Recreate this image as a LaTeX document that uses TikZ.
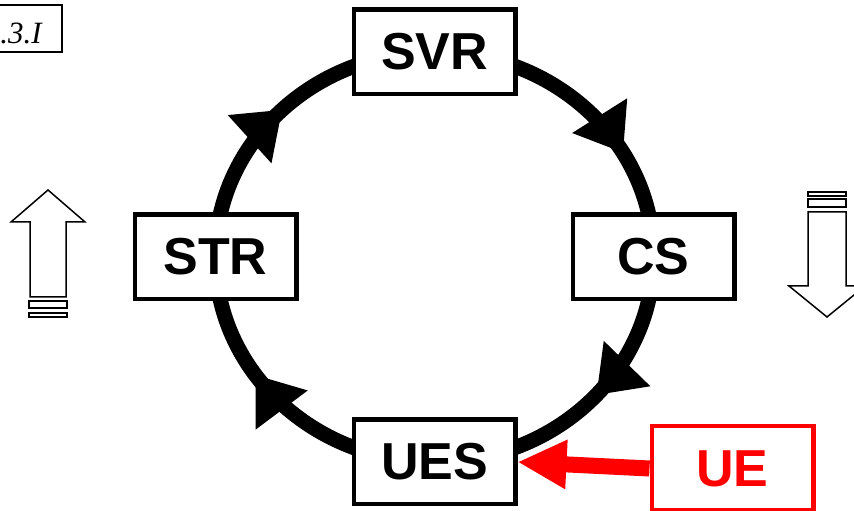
\documentclass[tikz,border=0pt]{standalone}
\usepackage{fontspec}
\setmainfont{Liberation Serif}
\newfontfamily\boxfont{Liberation Sans}
\usetikzlibrary{arrows.meta,decorations.markings,backgrounds}

\begin{document}
\begin{tikzpicture}[x=1pt,y=1pt,
  stage/.style={draw, line width=4.5pt, fill=white, inner sep=0pt,
    minimum width=161.5pt, minimum height=84.5pt,
    font=\boxfont\bfseries\fontsize{52}{52}\selectfont},
  ring/.style={line width=15pt},
  flowtip/.style={postaction={decorate},
    decoration={markings, mark=at position #1 with
      {\arrow{Triangle[length=44pt,width=62pt]}}}},
  hollow/.style={line width=1.5pt, line join=miter},
  tagfont/.style={font=\itshape\fontsize{31}{31}\selectfont}
]
\useasboundingbox (0,0) rectangle (854,511);
\clip (0,0) rectangle (854,511);

% the four stages of the cycle
\node[stage] (svr) at (434.5,459) {SVR};
\node[stage] (cs)  at (653.5,254) {CS};
\node[stage] (ues) at (434.5,49)  {UES};
\node[stage] (str) at (215.5,254) {STR};

% clockwise ring joining the stages
\begin{scope}[on background layer]
  \draw[ring, flowtip=0.67] (svr.center) arc[start angle=90,  end angle=0,   x radius=219, y radius=205];
  \draw[ring, flowtip=0.46] (cs.center)  arc[start angle=0,   end angle=-90, x radius=219, y radius=205];
  \draw[ring, flowtip=0.62] (ues.center) arc[start angle=270, end angle=180, x radius=219, y radius=205];
  \draw[ring, flowtip=0.50] (str.center) arc[start angle=180, end angle=90,  x radius=219, y radius=205];
\end{scope}

% external input
\node[stage, draw=red, text=red] (ue) at (732.5,42.5) {UE};
\draw[red, line width=16pt, -{Triangle[length=49pt,width=46pt]}] (ue.west) -- (ues.east);

% hollow arrow pointing up (left side)
\draw[hollow] (30,214) -- (30,289) -- (11,289) -- (48,321) -- (85,289) -- (66,289) -- (66,214) -- cycle;
\draw[hollow] (29,203) rectangle (67,210);
\draw[hollow] (29,194) rectangle (67,198);

% hollow arrow pointing down (right side)
\draw[hollow] (808,299) -- (808,225) -- (789,225) -- (827,194) -- (865,225) -- (846,225) -- (846,299) -- cycle;
\draw[hollow] (808,304) rectangle (846,312);
\draw[hollow] (808,315) rectangle (846,319);

% figure tag, top left
\draw[line width=1.5pt] (-5,459) rectangle (62,506);
\node[tagfont, anchor=base east, inner sep=0pt] (tag) at (42,467) {.3.I};
\end{tikzpicture}
\end{document}
